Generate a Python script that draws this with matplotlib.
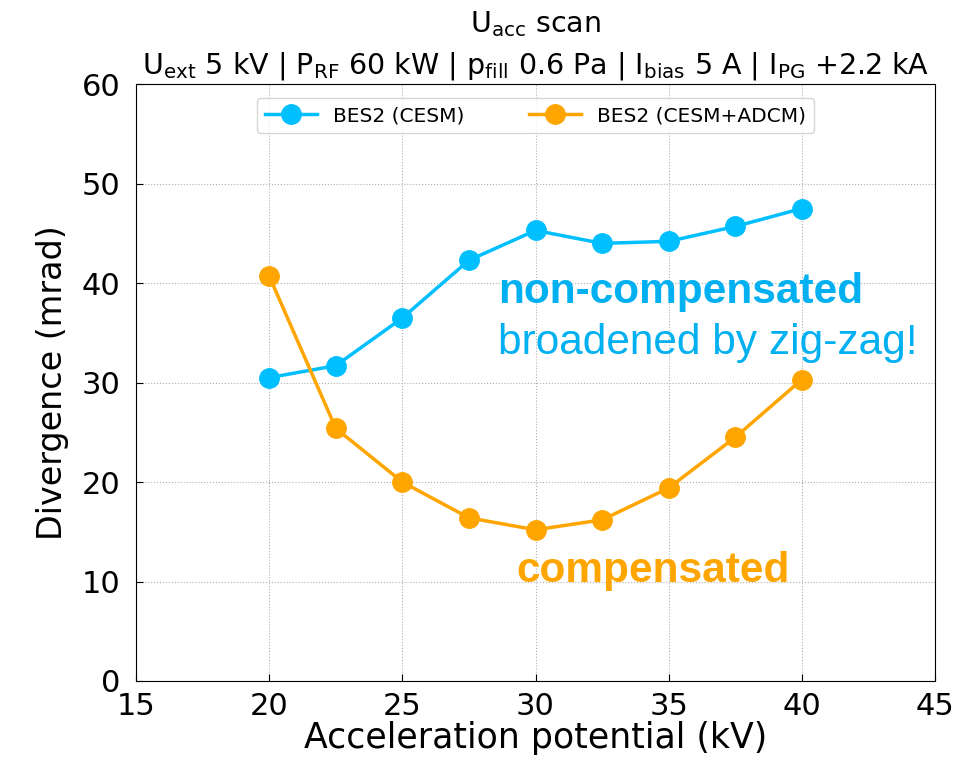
import matplotlib
matplotlib.use("Agg")
import matplotlib.pyplot as plt

# acceleration potential scan
u_acc = [20, 22.5, 25, 27.5, 30, 32.5, 35, 37.5, 40]
div_cesm = [30.5, 31.7, 36.5, 42.3, 45.3, 44.0, 44.2, 45.7, 47.5]
div_cesm_adcm = [40.7, 25.4, 20.0, 16.4, 15.2, 16.2, 19.4, 24.5, 30.3]

label_cesm = "BES2 (CESM)"
label_adcm = "BES2 (CESM+ADCM)"

fig = plt.figure(figsize=(9.79, 7.77), dpi=100)
ax = fig.add_axes([0.139, 0.1236, 0.816, 0.768])

ax.plot(u_acc, div_cesm, "-o", color="deepskyblue", lw=2.5, ms=14, label=label_cesm)
ax.plot(u_acc, div_cesm_adcm, "-o", color="orange", lw=2.5, ms=14, label=label_adcm)

ax.set_xlim(15, 45)
ax.set_ylim(0, 60)
ax.set_xticks([15, 20, 25, 30, 35, 40, 45])
ax.set_yticks([0, 10, 20, 30, 40, 50, 60])
ax.tick_params(direction="in", labelsize=22, length=5)
ax.tick_params(axis="y", pad=11)
ax.tick_params(axis="x", pad=8)
ax.grid(True, ls=":", color="#b0b0b0", lw=0.8)
ax.set_xlabel("Acceleration potential (kV)", fontsize=25, labelpad=0)
ax.set_ylabel("Divergence (mrad)", fontsize=24, labelpad=9)
ax.set_title("U$_{\\mathrm{acc}}$ scan\nU$_{\\mathrm{ext}}$ 5 kV | P$_{\\mathrm{RF}}$ 60 kW | "
             "p$_{\\mathrm{fill}}$ 0.6 Pa | I$_{\\mathrm{bias}}$ 5 A | I$_{\\mathrm{PG}}$ +2.2 kA",
             fontsize=20.5, pad=8, linespacing=1.45)
ax.legend(loc="upper center", ncol=2, fontsize=14.5, columnspacing=3.2,
          handlelength=2.6, borderaxespad=0.7)

ax.text(28.6, 38.0, "non-compensated", color="#00b0f0", fontsize=30.5,
        fontweight="bold", family="Liberation Sans", va="baseline")
ax.text(28.6, 32.9, "broadened by zig-zag!", color="#00b0f0", fontsize=30.5,
        family="Liberation Sans", va="baseline")
ax.text(29.3, 10.0, "compensated", color="orange", fontsize=30.5,
        fontweight="bold", family="Liberation Sans", va="baseline")

fig.savefig("out.png", dpi=100)
